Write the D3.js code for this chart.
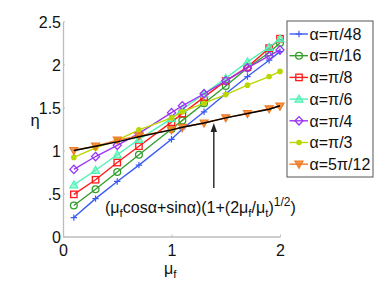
<!DOCTYPE html>
<html><head><meta charset="utf-8">
<script src="https://cdn.jsdelivr.net/npm/d3@7"></script>
<style>
body{margin:0;background:#fff;}
text{font-family:"Liberation Sans",Arial,sans-serif;}
</style></head>
<body><svg id="c" width="388" height="283"></svg>
<script>
const muF = [0.1,0.3,0.5,0.7,1.0,1.1,1.3,1.5,1.7,1.9,2.0];
const labels = ["α=π/48","α=π/16","α=π/8","α=π/6","α=π/4","α=π/3","α=5π/12"];
const etaPi48  = [0.22,0.44,0.64,0.83,1.13,1.25,1.45,1.66,1.86,2.05,2.15];
const etaPi16  = [0.36,0.55,0.75,0.95,1.25,1.35,1.55,1.75,1.96,2.14,2.25];
const etaPi8   = [0.49,0.66,0.86,1.05,1.33,1.43,1.62,1.81,1.97,2.19,2.30];
const etaPi6   = [0.60,0.77,0.95,1.13,1.37,1.48,1.66,1.84,2.03,2.20,2.30];
const etaPi4   = [0.78,0.93,1.06,1.20,1.44,1.52,1.66,1.81,1.96,2.10,2.17];
const etaPi3   = [0.92,1.03,1.12,1.24,1.38,1.45,1.55,1.65,1.76,1.86,1.92];
const eta5Pi12 = [1.00,1.05,1.12,1.17,1.24,1.27,1.32,1.38,1.43,1.485,1.515];
const theory   = [1.00,1.05,1.10,1.16,1.24,1.27,1.32,1.38,1.43,1.48,1.52];
const xTicks = [0,1,2];
const yTicks = [0,0.5,1,1.5,2,2.5];
const yTickLabels = ["0",".5","1","1.5","2","2.5"];

const series = [etaPi48,etaPi16,etaPi8,etaPi6,etaPi4,etaPi3,eta5Pi12];
const colors = ["#3a5cf5","#33a02c","#ff1a1a","#4ff2b5","#9b35f5","#bad600","#f07a22"];
const markers = ["plus","circle","square","triUp","diamond","dot","triDown"];

const svg = d3.select("#c");
const x = d3.scaleLinear().domain([0,2]).range([63,280]);
const y = d3.scaleLinear().domain([0,2.5]).range([236.5,21.5]);

// axes
const gx = svg.append("g").attr("transform","translate(0,236.5)")
  .call(d3.axisBottom(x).tickValues(xTicks).tickFormat(d3.format("d")).tickSizeInner(-2).tickSizeOuter(0).tickPadding(6));
const gy = svg.append("g").attr("transform","translate(63,0)")
  .call(d3.axisLeft(y).tickValues(yTicks).tickFormat((d,i)=>yTickLabels[i]).tickSizeInner(-2).tickSizeOuter(0).tickPadding(2));
[gx,gy].forEach(g=>{
  g.select(".domain").attr("stroke","#bdbdbd").attr("stroke-width",1.3);
  g.selectAll(".tick line").attr("stroke","#bdbdbd");
  g.selectAll(".tick text").attr("fill","#111").style("font-size","16px").style("font-family","Liberation Sans, Arial, sans-serif");
});
gx.selectAll(".tick text").attr("dy","0.85em");
gy.selectAll(".tick text").attr("dy","0.35em");

// marker drawer
function drawMarker(g, type, cx, cy, col){
  const s=3.2;
  if(type==="plus"){
    g.append("path").attr("d",`M${cx-s},${cy}H${cx+s}M${cx},${cy-s}V${cy+s}`).attr("stroke",col).attr("stroke-width",1.2).attr("fill","none");
  } else if(type==="circle"){
    g.append("circle").attr("cx",cx).attr("cy",cy).attr("r",3.4).attr("fill","none").attr("stroke",col).attr("stroke-width",1.3);
  } else if(type==="square"){
    g.append("rect").attr("x",cx-3.2).attr("y",cy-3.2).attr("width",6.4).attr("height",6.4).attr("fill","none").attr("stroke",col).attr("stroke-width",1.3);
  } else if(type==="triUp"){
    g.append("path").attr("d",`M${cx},${cy-4}L${cx+4},${cy+3}L${cx-4},${cy+3}Z`).attr("fill",col).attr("fill-opacity",0.5).attr("stroke",col).attr("stroke-width",1.2);
  } else if(type==="diamond"){
    g.append("path").attr("d",`M${cx},${cy-4.2}L${cx+4},${cy}L${cx},${cy+4.2}L${cx-4},${cy}Z`).attr("fill","none").attr("stroke",col).attr("stroke-width",1.3);
  } else if(type==="dot"){
    g.append("circle").attr("cx",cx).attr("cy",cy).attr("r",2.8).attr("fill",col);
  } else if(type==="triDown"){
    g.append("path").attr("d",`M${cx-4},${cy-3}L${cx+4},${cy-3}L${cx},${cy+4}Z`).attr("fill",col).attr("fill-opacity",0.8).attr("stroke",col).attr("stroke-width",1.2);
  }
}

const line = d3.line().x(d=>x(d[0])).y(d=>y(d[1]));
series.forEach((vals,i)=>{
  const pts = muF.map((m,j)=>[m,vals[j]]);
  const g = svg.append("g");
  g.append("path").datum(pts).attr("d",line).attr("fill","none").attr("stroke",colors[i]).attr("stroke-width",1.4);
  pts.forEach(p=>drawMarker(g,markers[i],x(p[0]),y(p[1]),colors[i]));
});
// theory line
svg.append("path").datum(muF.map((m,j)=>[m,theory[j]])).attr("d",line)
  .attr("fill","none").attr("stroke","#000").attr("stroke-width",1.4);

// arrow
svg.append("line").attr("x1",x(1.39)).attr("x2",x(1.39)).attr("y1",188).attr("y2",129)
  .attr("stroke","#222").attr("stroke-width",1.4);
svg.append("path").attr("d",`M${x(1.39)},${123}L${x(1.39)+3.2},${132}L${x(1.39)-3.2},${132}Z`).attr("fill","#222");

// formula text
const ft = svg.append("text").attr("x",105).attr("y",213).style("font-size","16px").attr("fill","#111");
ft.append("tspan").text("(μ");
ft.append("tspan").attr("dy",4).style("font-size","11.5px").text("f");
ft.append("tspan").attr("dy",-4).text("cosα+sinα)(1+(2μ");
ft.append("tspan").attr("dy",4).style("font-size","11.5px").text("f");
ft.append("tspan").attr("dy",-4).text("/μ");
ft.append("tspan").attr("dy",4).style("font-size","11.5px").text("t");
ft.append("tspan").attr("dy",-4).text(")");
ft.append("tspan").attr("dy",-7).style("font-size","12px").text("1/2");
ft.append("tspan").attr("dy",7).text(")");

// axis labels
const xl = svg.append("text").attr("x",164).attr("y",274).style("font-size","16px").attr("fill","#111");
xl.append("tspan").text("μ");
xl.append("tspan").attr("dy",4).style("font-size","11.5px").text("f");
svg.append("text").attr("x",35).attr("y",126).attr("text-anchor","middle").style("font-size","16.5px").attr("fill","#111").text("η");

// legend
const lg = svg.append("g");
lg.append("rect").attr("x",287).attr("y",21).attr("width",86).attr("height",156)
  .attr("fill","#fff").attr("stroke","#555").attr("stroke-width",1);
labels.forEach((lab,i)=>{
  const cy = 34 + i*21.7;
  lg.append("line").attr("x1",289.5).attr("x2",308).attr("y1",cy).attr("y2",cy).attr("stroke",colors[i]).attr("stroke-width",1.4);
  drawMarker(lg,markers[i],299,cy,colors[i]);
  lg.append("text").attr("x",309.5).attr("y",cy).attr("dy","0.36em").style("font-size","16px").attr("fill","#111").text(lab);
});
</script></body></html>
